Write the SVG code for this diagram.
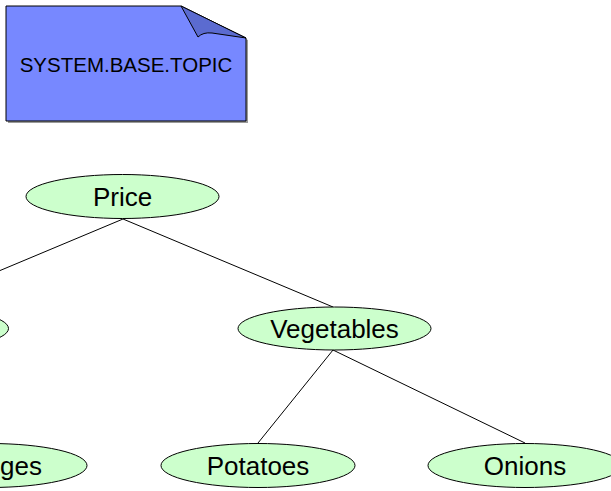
<svg xmlns="http://www.w3.org/2000/svg" width="611" height="491" viewBox="0 0 611 491">
<style>
.node ellipse{fill:#ccffcc;stroke:#000;stroke-width:1}
.node text{font-family:"Liberation Sans",Arial,sans-serif;font-size:26px;fill:#000;text-anchor:middle}
.edges line{stroke:#000;stroke-width:1}
</style>
<rect width="611" height="491" fill="#fff"/>
<g id="note">
<path d="M8,8 L183,8 L248,40 L248,123 L8,123 Z" fill="#9a9a9a"/>
<path d="M6,6 L181,6 L246,38 L246,121 L6,121 Z" fill="#7788ff" stroke="#000" stroke-width="1"/>
<path d="M181,6 L198,37 Q203,32 212,33 L246,38 Z" fill="#5b6bd0" stroke="#000" stroke-width="1"/>
<text x="126" y="72" font-family="'Liberation Sans',Arial,sans-serif" font-size="20.5" text-anchor="middle">SYSTEM.BASE.TOPIC</text>
</g>
<g class="edges">
<line x1="123" y1="219" x2="-87" y2="307"/>
<line x1="123" y1="219" x2="333" y2="307"/>
<line x1="333" y1="350" x2="258" y2="443"/>
<line x1="333" y1="350" x2="525" y2="443"/>
</g>
<g id="price" class="node"><ellipse cx="122.5" cy="196.5" rx="96.5" ry="22"/><text x="122.5" y="206">Price</text></g>
<g id="left" class="node"><ellipse cx="-88" cy="328.5" rx="96.5" ry="21.5"/></g>
<g id="vegetables" class="node"><ellipse cx="334.5" cy="328.5" rx="96.5" ry="21.5"/><text x="334.5" y="338">Vegetables</text></g>
<g id="oranges" class="node"><ellipse cx="-10" cy="465.5" rx="97" ry="22"/><text x="42" y="475" style="text-anchor:end">ges</text></g>
<g id="potatoes" class="node"><ellipse cx="258" cy="465.5" rx="97" ry="22"/><text x="258" y="475">Potatoes</text></g>
<g id="onions" class="node"><ellipse cx="525" cy="465.5" rx="97" ry="22"/><text x="525" y="475">Onions</text></g>
</svg>
